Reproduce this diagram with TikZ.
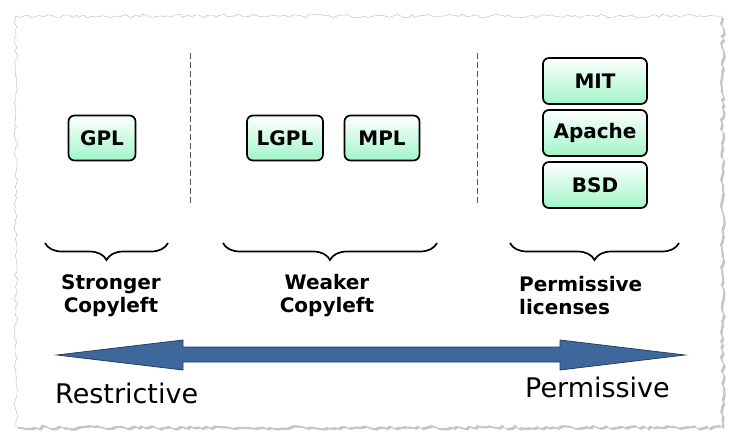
\documentclass[tikz,border=0pt]{standalone}
\usepackage{fontspec}
\setmainfont{DejaVu Sans}
\usetikzlibrary{decorations.pathmorphing,decorations.pathreplacing,shadows}
\definecolor{mint}{RGB}{160,245,200}
\definecolor{steel}{RGB}{62,104,155}
\definecolor{steeldark}{RGB}{38,62,98}
\begin{document}
\begin{tikzpicture}
[x=1pt,y=-1pt,
 lic/.style={draw,line width=1.7pt,rounded corners=6pt,top color=white,bottom color=mint,
   minimum height=45pt,inner sep=0pt,font=\bfseries\fontsize{20}{24}\selectfont},
 grouptag/.style={align=center,inner sep=0pt,font=\bfseries\fontsize{20}{23}\selectfont},
 endtag/.style={inner sep=0pt,font=\fontsize{27}{32}\selectfont},
 sep/.style={gray!70!black,line width=.8pt,dash pattern=on 6pt off 3pt},
 curly/.style={decorate,decoration={brace,amplitude=17pt},line width=1.7pt}]

  \useasboundingbox (0,0) rectangle (737,442);
  \draw[decorate,decoration={random steps,segment length=4pt,amplitude=1.8pt},
    draw=gray!55,fill=white,drop shadow={opacity=.45,shadow xshift=2pt,shadow yshift=-2pt}]
    (16,16) -- (722,16) -- (722,427) -- (16,427) -- cycle;

  \foreach \x in {190,477}
    \draw[sep] (\x,53) -- (\x,205);

  \node[lic,minimum width=67pt] (gpl) at (102,138) {GPL};
  \node[lic,minimum width=76pt] (lgpl) at (285,138) {LGPL};
  \node[lic,minimum width=75pt] (mpl) at (382,138) {MPL};
  \node[lic,minimum width=104pt,minimum height=46pt] (mit) at (595,81) {MIT};
  \node[lic,minimum width=104pt,minimum height=46pt] (apache) at (595,133) {Apache};
  \node[lic,minimum width=104pt,minimum height=46pt] (bsd) at (595,185) {BSD};

  \foreach \from/\to in {168/45,437/223,679/510}
    \draw[curly] (\from,243) -- (\to,243);

  \node[grouptag] (strong) at (111,296) {Stronger\\Copyleft};
  \node[grouptag] (weak) at (327,296) {Weaker\\Copyleft};
  \node[grouptag,align=left,anchor=west] (perm) at (519,296) {Permissive\\licenses};

  \draw[fill=steel,draw=steeldark,line width=.8pt]
    (57,355) -- (183,340) -- (183,347) -- (560,347) -- (560,340) -- (685,355)
    -- (560,370) -- (560,362) -- (183,362) -- (183,370) -- cycle;

  \node[endtag,anchor=west] (restr) at (55,393) {Restrictive};
  \node[endtag,anchor=west] (permis) at (525,387) {Permissive};

\end{tikzpicture}
\end{document}
